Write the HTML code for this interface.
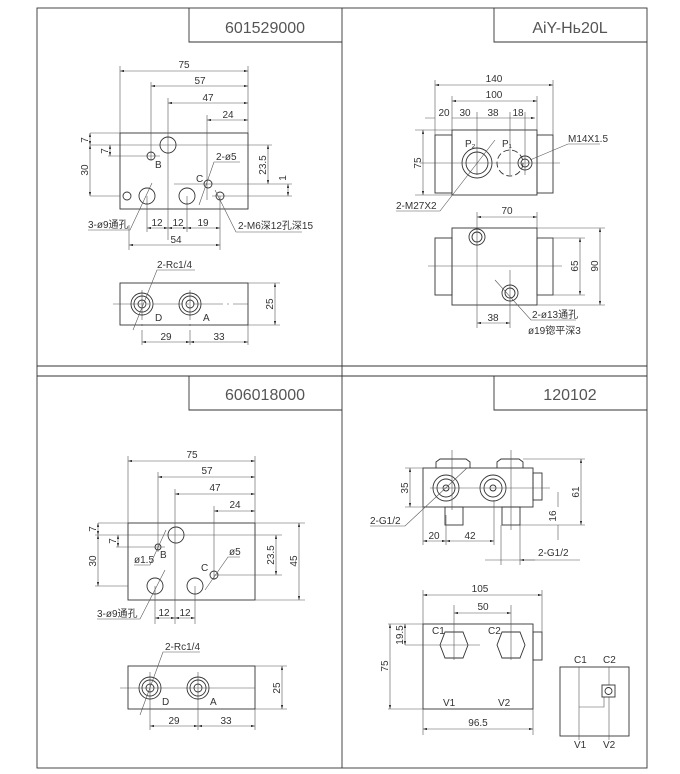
<!DOCTYPE html>
<html><head><meta charset="utf-8"><style>
html,body{margin:0;padding:0;background:#fff;}
svg{display:block;font-family:"Liberation Sans","Noto Sans CJK SC",sans-serif;}
.l{stroke:#333;stroke-width:.9;fill:none}
.t{stroke:#555;stroke-width:.6;fill:none}
.c{stroke:#555;stroke-width:.5;fill:none;stroke-dasharray:10 3 2 3}
text{fill:#333;font-size:10px}
.ti{fill:#555;font-size:16px}
</style></head><body>
<svg width="680" height="774" viewBox="0 0 680 774" xmlns="http://www.w3.org/2000/svg">
<defs><marker id="a" viewBox="0 0 10 6" refX="10" refY="3" markerWidth="7" markerHeight="4" orient="auto-start-reverse"><path d="M0,0L10,3L0,6z" fill="#333"/></marker></defs>
<!-- frame -->
<rect x="37" y="8" width="610" height="760" class="l"/>
<line x1="342" y1="8" x2="342" y2="768" class="l"/>
<line x1="37" y1="366" x2="647" y2="366" class="l"/>
<line x1="37" y1="376" x2="647" y2="376" class="l"/>
<path d="M189,8V42H342M494,8V42H647M189,376V410H342M494,376V410H647" class="l"/>
<text x="265" y="33" class="ti" text-anchor="middle">601529000</text>
<text x="570" y="33" class="ti" text-anchor="middle">AiY-Hь20L</text>
<text x="265" y="400" class="ti" text-anchor="middle">606018000</text>
<text x="570" y="400" class="ti" text-anchor="middle">120102</text>

<!-- TL -->
<g>
<rect x="120" y="133" width="128" height="76" class="l"/>
<path d="M120,66V133M248,66V133M151,82V160M168,98V240M207,115V200M90,133H120M90,145H272M108,156H160M90,196H120M174,184H292M212,196H292M147,196V232M187,196V232M220,196V250M129,225V250" class="t"/>
<g class="t" marker-start="url(#a)" marker-end="url(#a)">
<line x1="120" y1="71" x2="248" y2="71"/><line x1="151" y1="86" x2="248" y2="86"/>
<line x1="168" y1="103" x2="248" y2="103"/><line x1="207" y1="120" x2="248" y2="120"/>
<line x1="90" y1="133" x2="90" y2="145"/><line x1="90" y1="145" x2="90" y2="196"/>
<line x1="110" y1="145" x2="110" y2="156"/><line x1="268" y1="145" x2="268" y2="184"/>
<line x1="288" y1="184" x2="288" y2="196"/>
<line x1="147" y1="228" x2="168" y2="228"/><line x1="168" y1="228" x2="187" y2="228"/><line x1="187" y1="228" x2="220" y2="228"/>
<line x1="129" y1="245" x2="220" y2="245"/>
</g>
<circle cx="168" cy="145" r="8" class="l"/><circle cx="151" cy="156" r="4" class="l"/>
<circle cx="208" cy="184" r="4" class="l"/><circle cx="147" cy="196" r="8" class="l"/>
<circle cx="187" cy="196" r="8" class="l"/><circle cx="127" cy="196" r="4" class="l"/><circle cx="220" cy="196" r="4" class="l"/>
<text x="184" y="68" text-anchor="middle">75</text><text x="200" y="84" text-anchor="middle">57</text>
<text x="208" y="101" text-anchor="middle">47</text><text x="228" y="118" text-anchor="middle">24</text>
<text x="88" y="140" transform="rotate(-90 88 140)" text-anchor="middle">7</text>
<text x="108" y="151" transform="rotate(-90 108 151)" text-anchor="middle">7</text>
<text x="88" y="170" transform="rotate(-90 88 170)" text-anchor="middle">30</text>
<text x="266" y="165" transform="rotate(-90 266 165)" text-anchor="middle">23.5</text>
<text x="286" y="178" transform="rotate(-90 286 178)" text-anchor="middle">1</text>
<text x="155" y="168">B</text><text x="196" y="182">C</text>
<text x="157" y="226" text-anchor="middle">12</text><text x="178" y="226" text-anchor="middle">12</text><text x="203" y="226" text-anchor="middle">19</text>
<text x="176" y="243" text-anchor="middle">54</text>
<text x="88" y="228">3-ø9通孔</text><path d="M88,230H130L152,183" class="t"/>
<text x="238" y="229">2-M6深12孔深15</text><path d="M302,232H236L215,190" class="t"/>
<text x="216" y="160">2-ø5</text><path d="M240,162H214L199,205" class="t"/>
<rect x="120" y="283" width="128" height="42" class="l"/>
<path d="M113,304H248M142,290V345M190,290V345M248,325V345M120,304V304" class="t" stroke-dasharray="30 4 2 4"/>
<circle cx="142" cy="304" r="11" class="l"/><circle cx="142" cy="304" r="8" class="l"/><circle cx="142" cy="304" r="4" class="l"/>
<circle cx="190" cy="304" r="11" class="l"/><circle cx="190" cy="304" r="8" class="l"/><circle cx="190" cy="304" r="4" class="l"/>
<path d="M248,283H280M248,325H280" class="t"/>
<g class="t" marker-start="url(#a)" marker-end="url(#a)"><line x1="275" y1="283" x2="275" y2="325"/>
<line x1="142" y1="342" x2="190" y2="342"/><line x1="190" y1="342" x2="248" y2="342"/></g>
<text x="273" y="304" transform="rotate(-90 273 304)" text-anchor="middle">25</text>
<text x="166" y="340" text-anchor="middle">29</text><text x="219" y="340" text-anchor="middle">33</text>
<text x="155" y="321" font-size="8">D</text><text x="203" y="321" font-size="8">A</text>
<text x="157" y="268">2-Rc1/4</text><path d="M195,270H157L133,330" class="t"/>
</g>

<!-- TR -->
<g>
<rect x="452" y="130" width="85" height="65" class="l"/>
<rect x="435" y="135" width="17" height="58" class="l"/><rect x="537" y="135" width="16" height="58" class="l"/>
<path d="M435,80V135M553,80V135M452,96V130M537,96V130M477,112V175M510,112V175M525,112V175M420,163H560M415,130H452M415,195H452" class="t"/>
<g class="t" marker-start="url(#a)" marker-end="url(#a)">
<line x1="435" y1="85" x2="553" y2="85"/><line x1="452" y1="101" x2="537" y2="101"/>
<line x1="423" y1="130" x2="423" y2="195"/></g>
<path d="M425,118H435M452,118H477M477,118H510M510,118H525M525,118H535" class="t" marker-end="url(#a)"/>
<circle cx="477" cy="163" r="15" class="l"/><circle cx="477" cy="163" r="11" class="l"/>
<circle cx="510" cy="163" r="13" class="l" stroke-dasharray="6 3"/>
<circle cx="525" cy="163" r="7" class="l"/><circle cx="525" cy="163" r="4" class="l"/>
<text x="494" y="82" text-anchor="middle">140</text><text x="494" y="98" text-anchor="middle">100</text>
<text x="444" y="116" text-anchor="middle">20</text><text x="465" y="116" text-anchor="middle">30</text>
<text x="493" y="116" text-anchor="middle">38</text><text x="518" y="116" text-anchor="middle">18</text>
<text x="421" y="163" transform="rotate(-90 421 163)" text-anchor="middle">75</text>
<text x="465" y="147" font-size="9">P₂</text><text x="502" y="147" font-size="9">P₁</text>
<text x="568" y="142">M14X1.5</text><path d="M600,144H568L530,160" class="t"/>
<text x="396" y="209">2-M27X2</text><path d="M396,211H440L495,140" class="t"/>
<rect x="452" y="228" width="85" height="77" class="l"/>
<rect x="435" y="238" width="17" height="57" class="l"/><rect x="537" y="238" width="16" height="57" class="l"/>
<path d="M477,212V328M537,212V228M510,270V328M537,238H585M537,295H585M537,228H605M537,305H605M428,266H562" class="t"/>
<g class="t" marker-start="url(#a)" marker-end="url(#a)">
<line x1="477" y1="217" x2="537" y2="217"/><line x1="580" y1="238" x2="580" y2="295"/>
<line x1="600" y1="228" x2="600" y2="305"/><line x1="477" y1="323" x2="510" y2="323"/></g>
<circle cx="477" cy="237" r="8" class="l"/><circle cx="477" cy="237" r="5" class="l"/>
<circle cx="510" cy="293" r="8" class="l"/><circle cx="510" cy="293" r="5" class="l"/>
<text x="507" y="214" text-anchor="middle">70</text>
<text x="578" y="266" transform="rotate(-90 578 266)" text-anchor="middle">65</text>
<text x="598" y="266" transform="rotate(-90 598 266)" text-anchor="middle">90</text>
<text x="493" y="321" text-anchor="middle">38</text>
<text x="532" y="318">2-ø13通孔</text><path d="M576,320H531L495,280" class="t"/>
<text x="528" y="334">ø19锪平深3</text>
</g>

<!-- BL -->
<g>
<rect x="128" y="523" width="127" height="77" class="l"/>
<path d="M128,456V523M255,456V523M158,472V552M175,489V624M214,506V580M155,586V624M195,586V624M98,523H128M95,535H282M116,547H165M95,586H128M214,575H282M255,523H305M255,600H305" class="t"/>
<g class="t" marker-start="url(#a)" marker-end="url(#a)">
<line x1="128" y1="461" x2="255" y2="461"/><line x1="158" y1="477" x2="255" y2="477"/>
<line x1="175" y1="494" x2="255" y2="494"/><line x1="214" y1="511" x2="255" y2="511"/>
<line x1="98" y1="523" x2="98" y2="535"/><line x1="98" y1="535" x2="98" y2="586"/>
<line x1="118" y1="535" x2="118" y2="547"/><line x1="276" y1="535" x2="276" y2="575"/>
<line x1="299" y1="523" x2="299" y2="600"/>
<line x1="155" y1="618" x2="175" y2="618"/><line x1="175" y1="618" x2="195" y2="618"/></g>
<circle cx="176" cy="535" r="8" class="l"/><circle cx="158" cy="547" r="3" class="l"/>
<circle cx="214" cy="575" r="4" class="l"/><circle cx="155" cy="586" r="8" class="l"/><circle cx="195" cy="586" r="8" class="l"/>
<text x="192" y="458" text-anchor="middle">75</text><text x="207" y="474" text-anchor="middle">57</text>
<text x="215" y="491" text-anchor="middle">47</text><text x="235" y="508" text-anchor="middle">24</text>
<text x="96" y="529" transform="rotate(-90 96 529)" text-anchor="middle">7</text>
<text x="116" y="541" transform="rotate(-90 116 541)" text-anchor="middle">7</text>
<text x="96" y="561" transform="rotate(-90 96 561)" text-anchor="middle">30</text>
<text x="274" y="555" transform="rotate(-90 274 555)" text-anchor="middle">23.5</text>
<text x="297" y="561" transform="rotate(-90 297 561)" text-anchor="middle">45</text>
<text x="160" y="558">B</text><text x="201" y="571">C</text>
<text x="164" y="616" text-anchor="middle">12</text><text x="185" y="616" text-anchor="middle">12</text>
<text x="134" y="563" font-size="9">ø1.5</text><path d="M134,565H150L166,530" class="t"/>
<text x="229" y="555" font-size="9">ø5</text><path d="M240,557H228L205,590" class="t"/>
<text x="97" y="617">3-ø9通孔</text><path d="M97,619H140L165,570" class="t"/>
<rect x="128" y="666" width="127" height="43" class="l"/>
<path d="M120,688H255M150,672V730M198,672V730M255,709V730M255,666H287M255,709H287" class="t"/>
<circle cx="150" cy="688" r="11" class="l"/><circle cx="150" cy="688" r="8" class="l"/><circle cx="150" cy="688" r="4" class="l"/>
<circle cx="198" cy="688" r="11" class="l"/><circle cx="198" cy="688" r="8" class="l"/><circle cx="198" cy="688" r="4" class="l"/>
<g class="t" marker-start="url(#a)" marker-end="url(#a)"><line x1="282" y1="666" x2="282" y2="709"/>
<line x1="150" y1="726" x2="198" y2="726"/><line x1="198" y1="726" x2="255" y2="726"/></g>
<text x="280" y="688" transform="rotate(-90 280 688)" text-anchor="middle">25</text>
<text x="174" y="724" text-anchor="middle">29</text><text x="226" y="724" text-anchor="middle">33</text>
<text x="162" y="705" font-size="8">D</text><text x="210" y="705" font-size="8">A</text>
<text x="165" y="650">2-Rc1/4</text><path d="M200,652H163L140,715" class="t"/>
</g>

<!-- BR -->
<g>
<rect x="423" y="468" width="110" height="39" class="l"/>
<path d="M436,468V462L440,459H466L470,462V468M497,468V462L501,459H519L523,462V468" class="l"/>
<rect x="533" y="473" width="9" height="27" class="l"/>
<rect x="445" y="507" width="18" height="18" class="l"/><rect x="502" y="507" width="18" height="18" class="l"/>
<circle cx="446" cy="488" r="13" class="l"/><circle cx="446" cy="488" r="9" class="l"/><circle cx="446" cy="488" r="3" class="l"/>
<circle cx="493" cy="488" r="13" class="l"/><circle cx="493" cy="488" r="9" class="l"/><circle cx="493" cy="488" r="3" class="l"/>
<path d="M430,488H550M452,450V510M511,450V530M405,468H423M405,507H423M523,459H585M520,525H585M423,507V545M446,515V545M494,500V545M501,525V565M520,525V565" class="t"/>
<g class="t" marker-start="url(#a)" marker-end="url(#a)">
<line x1="410" y1="468" x2="410" y2="507"/><line x1="581" y1="459" x2="581" y2="525"/>
<line x1="423" y1="541" x2="446" y2="541"/><line x1="446" y1="541" x2="494" y2="541"/></g>
<path d="M558,492V507M558,540V525M485,560H501M535,560H520" class="t" marker-end="url(#a)"/>
<path d="M501,560H580" class="t"/>
<text x="408" y="488" transform="rotate(-90 408 488)" text-anchor="middle">35</text>
<text x="579" y="492" transform="rotate(-90 579 492)" text-anchor="middle">61</text>
<text x="556" y="516" transform="rotate(-90 556 516)" text-anchor="middle">16</text>
<text x="434" y="539" text-anchor="middle">20</text><text x="470" y="539" text-anchor="middle">42</text>
<text x="538" y="556">2-G1/2</text>
<text x="370" y="524">2-G1/2</text><path d="M370,526H405L467,468" class="t"/>
<rect x="423" y="624" width="110" height="85" class="l"/>
<rect x="533" y="632" width="9" height="28" class="l"/>
<path d="M440,645L445,632H463L468,645L463,658H445Z M497,645L502,632H520L525,645L520,658H502Z" class="l"/>
<path d="M405,645H480M454,605V660M511,605V660M423,590V624M542,590V632M388,624H423M388,709H423M423,709V735M533,709V735" class="t"/>
<g class="t" marker-start="url(#a)" marker-end="url(#a)">
<line x1="423" y1="595" x2="542" y2="595"/><line x1="454" y1="613" x2="511" y2="613"/>
<line x1="405" y1="624" x2="405" y2="645"/><line x1="390" y1="624" x2="390" y2="709"/>
<line x1="423" y1="729" x2="533" y2="729"/></g>
<text x="480" y="592" text-anchor="middle">105</text><text x="483" y="610" text-anchor="middle">50</text>
<text x="403" y="635" transform="rotate(-90 403 635)" text-anchor="middle" font-size="9">19.5</text>
<text x="388" y="666" transform="rotate(-90 388 666)" text-anchor="middle">75</text>
<text x="478" y="726" text-anchor="middle">96.5</text>
<text x="432" y="634" font-size="8">C1</text><text x="488" y="634" font-size="8">C2</text>
<text x="443" y="706" font-size="8">V1</text><text x="498" y="706" font-size="8">V2</text>
<rect x="560" y="667" width="69" height="69" class="l"/>
<path d="M579,667V740M609,667V685M609,697V740M579,707H604V697" class="t"/>
<rect x="602" y="685" width="13" height="12" class="l"/><circle cx="608.5" cy="691" r="3.5" class="l"/>
<text x="574" y="663" font-size="8">C1</text><text x="603" y="663" font-size="8">C2</text>
<text x="574" y="748" font-size="8">V1</text><text x="603" y="748" font-size="8">V2</text>
</g>
</svg>
</body></html>
